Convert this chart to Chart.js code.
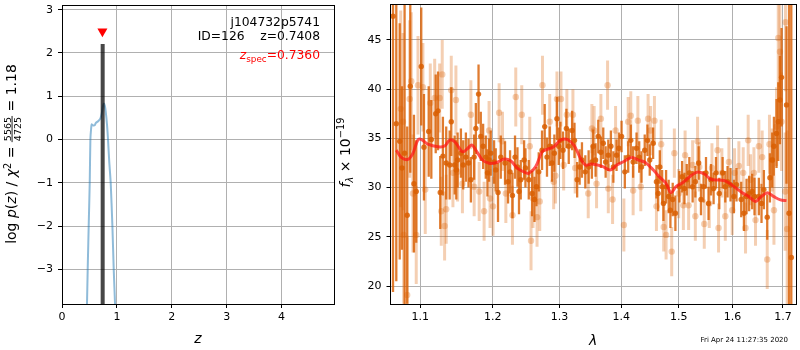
<!DOCTYPE html>
<html>
<head>
<meta charset="utf-8">
<script src="https://cdn.jsdelivr.net/npm/chart.js@4/dist/chart.umd.min.js"></script>
<style>
  html, body { margin: 0; padding: 0; background: #fff; }
  #wrap { position: relative; width: 800px; height: 350px; overflow: hidden; }
  #pzCanvas { position: absolute; left: 0; top: 0; }
  #specCanvas { position: absolute; left: 320px; top: 0; }
</style>
</head>
<body>
<div id="wrap">
  <canvas id="pzCanvas" width="345" height="350"></canvas>
  <canvas id="specCanvas" width="480" height="350"></canvas>
</div>
<script>
// ---- p(z) panel ----
const zGrid = [0.44, 0.455, 0.468, 0.486, 0.505, 0.517, 0.53, 0.541, 0.56, 0.596, 0.614, 0.663, 0.70, 0.723,
               0.747, 0.765, 0.78, 0.796, 0.82, 0.838, 0.86, 0.887, 0.918, 0.942, 0.966, 0.98];
const logPz = [-4.5, -3.8, -3.0, -2.0, -1.0, 0.0, 0.25, 0.35, 0.33, 0.33, 0.38, 0.43, 0.49, 0.6,
               0.78, 0.83, 0.78, 0.65, 0.34, 0.0, -0.5, -1.0, -2.0, -3.0, -3.8, -4.5];
const zBest = 0.7408;
const zSpec = 0.7360;
const pzBarTop = 2.21;
const zSpecMarker = 2.5;
const zTicks = [0, 1, 2, 3, 4];
const logPzTicks = [-3, -2, -1, 0, 1, 2, 3];

// ---- spectrum panel ----
const waveDark = [1.0646, 1.0688, 1.0732, 1.0761, 1.0795, 1.0829, 1.0869, 1.0917, 1.0947, 1.1013, 1.1049, 1.1112,
  1.1147, 1.1206, 1.1237, 1.1267, 1.1303, 1.1348, 1.1395, 1.1417, 1.1464, 1.1486, 1.1504, 1.1550, 1.1582, 1.1619,
  1.1656, 1.1689, 1.1735, 1.1759, 1.1797, 1.1829, 1.1862, 1.1900, 1.1924, 1.1947, 1.1971, 1.2019, 1.2043, 1.2076,
  1.2116, 1.2178, 1.2222, 1.2252, 1.2287, 1.2325, 1.2361, 1.2384, 1.2410, 1.2460, 1.2480, 1.2530, 1.2580, 1.2616,
  1.2646, 1.2681, 1.2731, 1.2772, 1.2807, 1.2849, 1.2884, 1.2921, 1.2961, 1.2988, 1.3015, 1.3056, 1.3109, 1.3146,
  1.3199, 1.3237, 1.3279, 1.3319, 1.3356, 1.3410, 1.3463, 1.3516, 1.3538, 1.3576, 1.3620, 1.3663, 1.3702, 1.3741,
  1.3785, 1.3828, 1.3869, 1.3922, 1.3960, 1.4006, 1.4061, 1.4118, 1.4162, 1.4202, 1.4260, 1.4306, 1.4345, 1.4401,
  1.4448, 1.4488, 1.4547, 1.4605, 1.4635, 1.4664, 1.4705, 1.4728, 1.4775, 1.4821, 1.4852, 1.4893, 1.4941, 1.5013,
  1.5062, 1.5104, 1.5146, 1.5193, 1.5253, 1.5303, 1.5364, 1.5407, 1.5455, 1.5500, 1.5548, 1.5593, 1.5642, 1.5687,
  1.5749, 1.5812, 1.5863, 1.5906, 1.5963, 1.6028, 1.6078, 1.6169, 1.6222, 1.6273, 1.6324, 1.6383, 1.6429, 1.6515,
  1.6568, 1.6615, 1.6682, 1.6736, 1.6782, 1.6817, 1.6869, 1.6904, 1.6938, 1.6971, 1.7072, 1.7124, 1.7171];
const fluxDark = [47.4, 36.5, 34.7, 32.0, 33.5, 27.2, 40.3, 30.4, 29.6, 42.3, 34.1, 35.7,
  34.9, 37.5, 37.8, 29.5, 33.2, 32.5, 32.3, 36.7, 32.3, 31.8, 32.8, 33.5, 32.3, 33.1,
  32.5, 30.8, 33.1, 36.0, 39.5, 35.2, 34.2, 33.1, 31.5, 32.8, 33.5, 32.6, 31.8, 29.5,
  33.1, 32.5, 30.6, 31.6, 29.2, 33.1, 32.1, 29.6, 30.8, 32.8, 32.0, 30.8, 29.4, 28.8,
  30.1, 31.6, 33.8, 36.2, 33.1, 34.2, 32.5, 33.5, 37.0, 34.2, 34.8, 33.8, 36.0, 34.2,
  35.8, 34.8, 30.8, 32.1, 32.8, 31.6, 32.1, 32.6, 34.2, 32.8, 35.2, 33.6, 34.5, 32.6,
  33.3, 34.2, 32.1, 33.3, 34.0, 35.2, 31.6, 33.1, 34.8, 32.6, 34.0, 33.1, 32.1, 33.8,
  34.8, 32.8, 34.5, 30.6, 29.4, 32.1, 30.1, 28.4, 30.1, 29.1, 27.7, 28.8, 27.4, 30.1,
  31.1, 29.9, 30.8, 31.5, 30.1, 30.6, 32.5, 28.8, 30.1, 31.5, 28.4, 30.8, 29.9, 31.5,
  29.4, 31.5, 30.1, 30.6, 30.3, 29.1, 30.3, 28.8, 27.4, 29.1, 29.4, 29.6, 29.1, 29.1,
  28.4, 29.8, 27.0, 31.0, 32.8, 34.2, 35.5, 36.7, 38.9, 41.2, 38.4, 27.4, 22.9];
const errDark = [28, 16, 12, 8.3, 16, 9, 8.8, 7.0, 5.2, 6.0, 5.4, 4.6,
  4.0, 4.0, 4.0, 3.7, 4.0, 3.7, 3.5, 3.5, 3.0, 3.0, 2.8, 2.5, 2.5, 2.5,
  2.5, 2.3, 2.3, 2.6, 3.0, 2.5, 2.3, 2.2, 2.4, 2.2, 2.3, 2.2, 2.2, 3.0,
  2.2, 2.2, 2.2, 2.2, 2.3, 2.2, 2.0, 2.3, 2.0, 2.0, 2.0, 2.0, 2.3, 2.3,
  2.0, 2.0, 2.0, 2.3, 2.0, 2.0, 1.9, 1.9, 2.2, 1.9, 1.9, 1.9, 2.0, 1.8,
  2.0, 1.8, 1.8, 1.8, 1.8, 1.7, 1.7, 1.7, 1.7, 1.7, 1.7, 1.6, 1.6, 1.6,
  1.6, 1.6, 1.6, 1.6, 1.6, 1.6, 1.7, 1.6, 1.6, 1.6, 1.6, 1.6, 1.6, 1.6,
  1.6, 1.6, 1.6, 1.7, 1.8, 1.7, 1.7, 1.8, 1.7, 1.7, 1.8, 1.7, 1.8, 1.6,
  1.6, 1.6, 1.6, 1.6, 1.6, 1.6, 1.7, 1.6, 1.6, 1.6, 1.7, 1.6, 1.6, 1.6,
  1.6, 1.6, 1.6, 1.6, 1.7, 1.7, 1.7, 1.8, 1.8, 1.8, 1.8, 1.8, 1.9, 1.9,
  2.0, 2.0, 2.3, 2.5, 2.8, 3.0, 3.5, 4.0, 4.5, 5.0, 8.0, 22, 28];

const waveLight = [1.0745, 1.0774, 1.0783, 1.0829, 1.0861, 1.0882, 1.0904, 1.0947, 1.0970, 1.1035, 1.1066, 1.1133,
  1.1192, 1.1259, 1.1281, 1.1294, 1.1326, 1.1348, 1.1417, 1.1440, 1.1481, 1.1504, 1.1571, 1.1689, 1.1735, 1.1806,
  1.1876, 1.1947, 1.1961, 1.2004, 1.2092, 1.2141, 1.2190, 1.2287, 1.2336, 1.2425, 1.2545, 1.2564, 1.2594, 1.2655,
  1.2696, 1.2738, 1.2849, 1.2910, 1.2938, 1.2961, 1.3024, 1.3066, 1.3116, 1.3212, 1.3248, 1.3457, 1.3516, 1.3553,
  1.3592, 1.3663, 1.3773, 1.3785, 1.3856, 1.3906, 1.4045, 1.4118, 1.4162, 1.4202, 1.4283, 1.4333, 1.4459, 1.4503,
  1.4570, 1.4605, 1.4688, 1.4733, 1.4775, 1.4875, 1.4922, 1.5000, 1.5085, 1.5116, 1.5180, 1.5253, 1.5303, 1.5344,
  1.5376, 1.5468, 1.5561, 1.5611, 1.5717, 1.5735, 1.5798, 1.5863, 1.5932, 1.5995, 1.6040, 1.6124, 1.6208, 1.6253,
  1.6305, 1.6351, 1.6418, 1.6449, 1.6515, 1.6581, 1.6682, 1.6727, 1.6782, 1.6817, 1.6869, 1.6904, 1.6938, 1.6971,
  1.7045, 1.7052, 1.7086];
const fluxLight = [38.0, 36.7, 25.2, 19.1, 39.0, 40.8, 29.4, 25.2, 40.4, 40.2, 29.8, 38.6,
  39.1, 39.1, 27.6, 41.5, 26.1, 27.8, 39.9, 31.5, 38.9, 31.6, 30.4, 37.4, 30.1, 29.6,
  27.6, 35.8, 28.9, 28.1, 37.6, 34.7, 29.4, 27.2, 39.2, 37.4, 34.2, 24.6, 28.9, 27.0,
  28.6, 40.4, 36.7, 30.6, 31.2, 39.0, 39.0, 32.3, 37.4, 37.4, 32.0, 29.4, 36.0, 35.8,
  30.4, 37.0, 40.4, 29.9, 28.8, 35.8, 26.2, 36.7, 37.3, 29.7, 36.8, 30.1, 37.0, 35.8,
  36.8, 28.1, 34.4, 26.0, 25.2, 23.5, 33.5, 29.4, 28.2, 33.3, 28.2, 32.3, 27.1, 34.7,
  32.1, 26.3, 28.4, 32.0, 33.8, 25.9, 31.5, 27.1, 32.6, 27.7, 31.5, 32.2, 31.5, 25.9,
  34.8, 30.8, 31.5, 26.7, 34.2, 33.1, 22.7, 34.4, 32.8, 27.7, 36.2, 45.2, 43.8, 36.7,
  29.6, 46.8, 25.8];
const errLight = [10, 9, 7, 6, 8, 7, 6, 5, 5, 4.5, 4.5, 4,
  4, 3.5, 3.5, 3.5, 3.5, 3.5, 3.5, 3.5, 3.5, 3, 3, 3.5, 3, 3,
  3, 3, 3, 3, 3, 3, 3, 3, 3, 3, 3, 3, 3, 3,
  3, 3, 2.8, 2.8, 2.8, 2.8, 2.8, 2.6, 2.6, 2.6, 2.6, 2.5, 2.5, 2.5,
  2.5, 2.5, 2.5, 2.5, 2.5, 2.5, 2.7, 2.5, 2.5, 2.5, 2.5, 2.5, 2.5, 2.5,
  2.5, 2.5, 2.5, 2.5, 2.5, 2.5, 2.5, 2.5, 2.5, 2.5, 2.5, 2.5, 2.5, 2.5,
  2.5, 2.5, 2.5, 2.5, 2.5, 2.5, 2.5, 2.5, 2.5, 2.5, 2.5, 2.5, 2.6, 2.6,
  2.6, 2.6, 2.6, 2.6, 2.7, 2.7, 3, 3, 3.2, 3.5, 4, 5, 5, 5,
  6, 7, 10];

const waveModel = [1.0688, 1.0752, 1.0839, 1.0903, 1.0968, 1.1011, 1.1100, 1.1237, 1.1327, 1.1395, 1.1464, 1.1574,
  1.1643, 1.1703, 1.1759, 1.1854, 1.1948, 1.2045, 1.2166, 1.2264, 1.2363, 1.2487, 1.2532, 1.2633, 1.2733, 1.2809,
  1.2913, 1.3016, 1.3121, 1.3227, 1.3333, 1.3413, 1.3513, 1.3677, 1.3814, 1.3925, 1.4037, 1.4178, 1.4292, 1.4405,
  1.4551, 1.4656, 1.4774, 1.4862, 1.4952, 1.5070, 1.5223, 1.5344, 1.5468, 1.5592, 1.5748, 1.5875, 1.6029, 1.6189,
  1.6320, 1.6450, 1.6549, 1.6682, 1.6816, 1.6949, 1.7072];
const fluxModel = [33.8, 33.07, 32.87, 33.48, 34.83, 34.9, 34.42, 34.15, 34.22, 34.83, 34.66, 33.64,
  33.98, 34.32, 33.81, 32.8, 32.47, 32.53, 32.9, 32.7, 31.96, 31.51, 31.45, 32.12, 33.64, 33.88,
  34.15, 34.83, 34.9, 34.32, 32.97, 32.29, 32.4, 32.19, 31.79, 32.29, 32.63, 33.07, 32.8, 32.57,
  31.79, 31.1, 30.44, 29.49, 30.1, 30.5, 31.21, 31.58, 31.38, 30.85, 30.77, 30.67, 30.1, 29.49,
  29.08, 28.58, 29.02, 29.49, 29.08, 28.75, 28.68];
const waveTicks = [1.1, 1.2, 1.3, 1.4, 1.5, 1.6, 1.7];
const fluxTicks = [20, 25, 30, 35, 40, 45];

const stampText = 'Fri Apr 24 11:27:35 2020';

const FONT = '"DejaVu Sans"';
Chart.defaults.font.family = 'DejaVu Sans';
Chart.defaults.color = '#000';

const pairs = (xs, ys) => xs.map((x, i) => ({ x: x, y: ys[i] }));
const minus = v => (v < 0 ? '\u2212' + Math.abs(v) : String(v));

// draw a row of text pieces (plain, italic, sub/superscripts, a stacked fraction)
function drawRuns(ctx, runs, x, y, align) {
  let total = 0;
  runs.forEach(r => {
    ctx.font = r.font;
    r.w = r.frac ? Math.max(ctx.measureText(r.frac[0]).width, ctx.measureText(r.frac[1]).width) + 2
                 : ctx.measureText(r.text).width;
    total += r.w;
  });
  let cx = align === 'right' ? x - total : align === 'center' ? x - total / 2 : x;
  ctx.textBaseline = 'alphabetic';
  runs.forEach(r => {
    ctx.font = r.font;
    ctx.fillStyle = r.color || '#000';
    if (r.frac) {
      ctx.textAlign = 'center';
      ctx.fillText(r.frac[0], cx + r.w / 2, y - 5.5);
      ctx.fillText(r.frac[1], cx + r.w / 2, y + 5);
      ctx.fillRect(cx, y - 4.4, r.w, 0.9);
    } else {
      ctx.textAlign = 'left';
      ctx.fillText(r.text, cx, y + (r.dy || 0));
    }
    cx += r.w;
  });
}

function drawFrame(chart) {
  const { ctx, chartArea: a } = chart;
  ctx.save();
  ctx.strokeStyle = '#000';
  ctx.lineWidth = 1;
  const l = Math.floor(a.left) + 0.5, t = Math.floor(a.top) + 0.5;
  const r = Math.floor(a.right) + 0.5, b = Math.floor(a.bottom) + 0.5;
  ctx.strokeRect(l, t, r - l, b - t);
  ctx.restore();
}

// vertical error bars, drawn just before the markers of the same dataset
const errorBars = {
  id: 'errorBars',
  beforeDatasetDraw(chart, args) {
    const ds = chart.data.datasets[args.index];
    if (!ds.errors) return;
    const { ctx, chartArea: a, scales: { x, y } } = chart;
    ctx.save();
    ctx.beginPath();
    ctx.rect(a.left, a.top, a.right - a.left, a.bottom - a.top);
    ctx.clip();
    ctx.strokeStyle = ds.errorColor;
    ctx.lineWidth = ds.errorWidth;
    ds.data.forEach((p, i) => {
      const px = x.getPixelForValue(p.x);
      ctx.beginPath();
      ctx.moveTo(px, y.getPixelForValue(p.y - ds.errors[i]));
      ctx.lineTo(px, y.getPixelForValue(p.y + ds.errors[i]));
      ctx.stroke();
    });
    ctx.restore();
  }
};

const pzText = {
  id: 'pzText',
  afterDraw(chart) {
    const { ctx, chartArea: a } = chart;
    drawFrame(chart);
    ctx.save();
    const f = s => s + ' ' + FONT;
    drawRuns(ctx, [{ text: 'j104732p5741', font: f('12.3px') }], 320, 26, 'right');
    drawRuns(ctx, [{ text: 'ID=126    z=0.7408', font: f('12.3px') }], 320, 40, 'right');
    drawRuns(ctx, [
      { text: 'z', font: f('italic 12.3px'), color: 'red' },
      { text: 'spec', font: f('8.8px'), color: 'red', dy: 3 },
      { text: '=0.7360', font: f('12.3px'), color: 'red' }
    ], 320, 58.5, 'right');
    // x label
    drawRuns(ctx, [{ text: 'z', font: f('italic 14px') }], (a.left + a.right) / 2, 343, 'center');
    // y label
    ctx.translate(16, 154);
    ctx.rotate(-Math.PI / 2);
    drawRuns(ctx, [
      { text: 'log ', font: f('14px') },
      { text: 'p', font: f('italic 14px') },
      { text: '(', font: f('14px') },
      { text: 'z', font: f('italic 14px') },
      { text: ') / ', font: f('14px') },
      { text: '\u03c7', font: f('italic 14px') },
      { text: '2', font: f('9.8px'), dy: -5.5 },
      { text: ' = ', font: f('14px') },
      { frac: ['5565', '4725'], font: f('9.5px') },
      { text: ' = 1.18', font: f('14px') }
    ], 0, 0, 'center');
    ctx.restore();
  }
};

const specText = {
  id: 'specText',
  afterDraw(chart) {
    const { ctx, chartArea: a } = chart;
    drawFrame(chart);
    ctx.save();
    const f = s => s + ' ' + FONT;
    drawRuns(ctx, [{ text: '\u03bb', font: f('italic 14px') }], (a.left + a.right) / 2, 345, 'center');
    ctx.font = f('7px');
    ctx.fillStyle = '#000';
    ctx.textAlign = 'right';
    ctx.fillText(stampText, 468, 341.5);
    ctx.translate(29.5, 152.5);
    ctx.rotate(-Math.PI / 2);
    drawRuns(ctx, [
      { text: 'f', font: f('italic 14px') },
      { text: '\u03bb', font: f('italic 9.8px'), dy: 3 },
      { text: ' \u00d7 10', font: f('14px') },
      { text: '\u221219', font: f('9.8px'), dy: -6 }
    ], 0, 0, 'center');
    ctx.restore();
  }
};

const gridOpts = { color: '#b0b0b0', lineWidth: 1, tickColor: '#000', tickLength: 4, tickWidth: 1, drawTicks: true };
const tickFont = { family: 'DejaVu Sans', size: 11 };

function fixedAxis(size, vertical) {
  return s => {
    if (vertical) s.width = size; else s.height = size;
    s.paddingLeft = 0; s.paddingRight = 0; s.paddingTop = 0; s.paddingBottom = 0;
  };
}

new Chart(document.getElementById('pzCanvas'), {
  type: 'scatter',
  data: {
    datasets: [
      {
        data: [{ x: zSpec, y: zSpecMarker }],
        pointStyle: 'triangle', pointRotation: 180, pointRadius: 5.8,
        pointBackgroundColor: 'red', pointBorderWidth: 0, clip: 0
      },
      {
        data: [{ x: zBest, y: -4.5 }, { x: zBest, y: pzBarTop }],
        showLine: true, borderColor: 'rgba(0,0,0,0.72)', borderWidth: 4,
        pointRadius: 0, clip: 0
      },
      {
        data: pairs(zGrid, logPz),
        showLine: true, borderColor: 'rgba(31,119,180,0.5)', borderWidth: 2,
        pointRadius: 0, tension: 0.2, clip: 0
      }
    ]
  },
  options: {
    responsive: false, animation: false, devicePixelRatio: 1, events: [],
    layout: { padding: { top: 3, right: 11, bottom: 0, left: 0 } },
    plugins: { legend: { display: false }, tooltip: { enabled: false } },
    scales: {
      x: {
        type: 'linear', min: 0, max: 4.954, bounds: 'data',
        afterBuildTicks: s => { s.ticks = zTicks.map(v => ({ value: v })); },
        afterFit: fixedAxis(46, false),
        grid: gridOpts, border: { display: false },
        ticks: { font: tickFont, color: '#000', padding: 3, maxRotation: 0, autoSkip: false, callback: v => minus(v) }
      },
      y: {
        type: 'linear', min: -3.8, max: 3.09, bounds: 'data',
        afterBuildTicks: s => { s.ticks = logPzTicks.map(v => ({ value: v })); },
        afterFit: fixedAxis(62, true),
        grid: gridOpts, border: { display: false },
        ticks: { font: tickFont, color: '#000', padding: 5, autoSkip: false, callback: v => minus(v) }
      }
    }
  },
  plugins: [pzText]
});

new Chart(document.getElementById('specCanvas'), {
  type: 'scatter',
  data: {
    datasets: [
      {
        data: pairs(waveModel, fluxModel),
        showLine: true, borderColor: 'rgba(255,20,20,0.72)', borderWidth: 3,
        pointRadius: 0, tension: 0.35, clip: 0
      },
      {
        data: pairs(waveDark, fluxDark),
        errors: errDark, errorColor: 'rgba(217,95,2,0.82)', errorWidth: 2.3,
        pointRadius: 2.7, pointBackgroundColor: 'rgba(217,95,2,0.85)', pointBorderWidth: 0, clip: 0
      },
      {
        data: pairs(waveLight, fluxLight),
        errors: errLight, errorColor: 'rgba(217,95,2,0.3)', errorWidth: 3,
        pointRadius: 3.2, pointBackgroundColor: 'rgba(217,95,2,0.3)', pointBorderWidth: 0, clip: 0
      }
    ]
  },
  options: {
    responsive: false, animation: false, devicePixelRatio: 1, events: [],
    layout: { padding: { top: 3, right: 3, bottom: 0, left: 0 } },
    plugins: { legend: { display: false }, tooltip: { enabled: false } },
    scales: {
      x: {
        type: 'logarithmic', min: 1.0614, max: 1.7268, bounds: 'data',
        afterBuildTicks: s => { s.ticks = waveTicks.map(v => ({ value: v })); },
        afterFit: fixedAxis(46, false),
        grid: gridOpts, border: { display: false },
        ticks: { font: tickFont, color: '#000', padding: 3, maxRotation: 0, autoSkip: false, callback: v => v.toFixed(1) }
      },
      y: {
        type: 'linear', min: 18.18, max: 48.65, bounds: 'data',
        afterBuildTicks: s => { s.ticks = fluxTicks.map(v => ({ value: v })); },
        afterFit: fixedAxis(70.5, true),
        grid: gridOpts, border: { display: false },
        ticks: { font: tickFont, color: '#000', padding: 5, autoSkip: false, callback: v => String(v) }
      }
    }
  },
  plugins: [errorBars, specText]
});
</script>
</body>
</html>
